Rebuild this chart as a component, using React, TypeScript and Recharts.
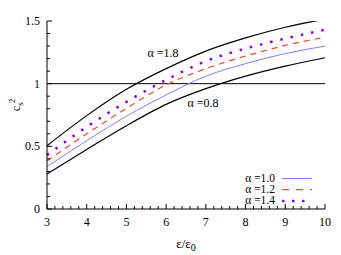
import React from 'react';
import { LineChart, Line, XAxis, YAxis, ReferenceLine, ReferenceDot, Legend } from 'recharts';

const eps = [3, 4, 5, 6, 7, 8, 9, 10];
const a08 = [0.28, 0.475, 0.665, 0.835, 0.96, 1.06, 1.14, 1.207];
const a10 = [0.338, 0.545, 0.74, 0.91, 1.06, 1.16, 1.24, 1.30];
const a12 = [0.383, 0.6, 0.803, 0.99, 1.12, 1.22, 1.305, 1.37];
const a14 = [0.43, 0.655, 0.855, 1.03, 1.18, 1.28, 1.36, 1.43];
const a18 = [0.505, 0.745, 0.955, 1.12, 1.26, 1.365, 1.45, 1.515];

const xMajor = [3, 4, 5, 6, 7, 8, 9, 10];
const yMajor = [0, 0.5, 1, 1.5];
const xTicks = Array.from({ length: 36 }, (_, i) => +(3 + i * 0.2).toFixed(1));
const yTicks = Array.from({ length: 16 }, (_, i) => +(i * 0.1).toFixed(1));

const data = eps.map((e, i) => ({ e, a08: a08[i], a10: a10[i], a12: a12[i], a14: a14[i], a18: a18[i] }));

const FONT = "'Liberation Serif', 'Times New Roman', 'DejaVu Serif', serif";
const BLUE = '#8080ff';
const RED = '#f0442e';
const PURPLE = '#9400d3';

const tstyle = (size: number) => ({ fontFamily: FONT, fontSize: size });

const isMajor = (v: number, list: number[]) => list.some((m) => Math.abs(m - v) < 1e-6);

const BottomTick = (p: any) => {
  const v = p.payload.value;
  const maj = isMajor(v, xMajor);
  return (
    <g>
      <line x1={p.x} x2={p.x} y1={p.y} y2={p.y - (maj ? 5 : 3)} stroke="#000" strokeWidth={1} />
      {maj && (
        <text x={p.x} y={p.y + 17} textAnchor="middle" style={tstyle(12)} fill="#000">
          {v}
        </text>
      )}
    </g>
  );
};
const TopTick = (p: any) => {
  const v = p.payload.value;
  const maj = isMajor(v, xMajor);
  return <line x1={p.x} x2={p.x} y1={p.y} y2={p.y + (maj ? 5 : 3)} stroke="#000" strokeWidth={1} />;
};
const LeftTick = (p: any) => {
  const v = p.payload.value;
  const maj = isMajor(v, yMajor);
  return (
    <g>
      <line x1={p.x} x2={p.x + (maj ? 5 : 3)} y1={p.y} y2={p.y} stroke="#000" strokeWidth={1} />
      {maj && (
        <text x={p.x - 7} y={p.y + 4} textAnchor="end" style={tstyle(12)} fill="#000">
          {v}
        </text>
      )}
    </g>
  );
};
const RightTick = (p: any) => {
  const v = p.payload.value;
  const maj = isMajor(v, yMajor);
  return <line x1={p.x} x2={p.x - (maj ? 5 : 3)} y1={p.y} y2={p.y} stroke="#000" strokeWidth={1} />;
};

const legendItems = [
  { label: 'α =1.0', color: BLUE, dash: undefined as string | undefined, w: 1 },
  { label: 'α =1.2', color: RED, dash: '7 7', w: 1.2 },
  { label: 'α =1.4', color: PURPLE, dash: '2.5 7.5', w: 2.5 },
];

const LegendContent = () => (
  <svg width={90} height={36} style={{ display: 'block' }}>
    {legendItems.map((it, i) => (
      <g key={it.label}>
        <text x={42} y={6.5 + i * 11.2 + 3.5} textAnchor="end" style={tstyle(11.5)} fill="#000">
          {it.label}
        </text>
        <line x1={49} x2={79} y1={6.5 + i * 11.2} y2={6.5 + i * 11.2} stroke={it.color} strokeWidth={it.w} strokeDasharray={it.dash} />
      </g>
    ))}
  </svg>
);

const YLabel = () => (
  <text transform="translate(12,97) rotate(-90)" textAnchor="middle" style={tstyle(12)} fill="#000">
    c<tspan dy={3} style={tstyle(9)}>s</tspan>
    <tspan dy={-8} dx={-1} style={tstyle(9)}>2</tspan>
  </text>
);

const XLabel = (p: any) => {
  const vb = p.viewBox || {};
  const cx = (vb.x ?? 39) + (vb.width ?? 278) / 2;
  return (
    <text x={cx} y={240} textAnchor="middle" style={tstyle(13)} fill="#000">
      ε/ε<tspan dy={3} style={tstyle(10)}>0</tspan>
    </text>
  );
};

export default function App() {
  return (
    <LineChart width={333} height={247} data={data} margin={{ top: 13, right: 16, bottom: 0, left: 0 }}>
      <XAxis
        dataKey="e"
        type="number"
        domain={[3, 10]}
        ticks={xTicks}
        interval={0}
        tickSize={0}
        tickMargin={0}
        tick={BottomTick}
        height={46}
        axisLine={{ stroke: '#000', strokeWidth: 1 }}
        label={{ content: XLabel }}
      />
      <XAxis
        xAxisId="top"
        orientation="top"
        dataKey="e"
        type="number"
        domain={[3, 10]}
        ticks={xTicks}
        interval={0}
        tickSize={0}
        tickMargin={0}
        tick={TopTick}
        height={0}
        axisLine={{ stroke: '#000', strokeWidth: 1 }}
      />
      <YAxis
        type="number"
        domain={[0, 1.5]}
        ticks={yTicks}
        interval={0}
        allowDataOverflow
        tickSize={0}
        tickMargin={0}
        tick={LeftTick}
        width={39}
        axisLine={{ stroke: '#000', strokeWidth: 1 }}
        label={{ content: YLabel }}
      />
      <YAxis
        yAxisId="right"
        orientation="right"
        type="number"
        domain={[0, 1.5]}
        ticks={yTicks}
        interval={0}
        allowDataOverflow
        tickSize={0}
        tickMargin={0}
        tick={RightTick}
        width={0}
        axisLine={{ stroke: '#000', strokeWidth: 1 }}
      />
      <ReferenceLine y={1} stroke="#000" strokeWidth={1} ifOverflow="hidden" />
      <Line dataKey="a08" type="monotone" stroke="#000" strokeWidth={1.2} dot={false} isAnimationActive={false} legendType="none" />
      <Line dataKey="a18" type="monotone" stroke="#000" strokeWidth={1.2} dot={false} isAnimationActive={false} legendType="none" />
      <Line dataKey="a10" type="monotone" stroke={BLUE} strokeWidth={1} dot={false} isAnimationActive={false} />
      <Line dataKey="a12" type="monotone" stroke={RED} strokeWidth={1.2} strokeDasharray="6 5" dot={false} isAnimationActive={false} />
      <Line dataKey="a14" type="monotone" stroke={PURPLE} strokeWidth={2.5} strokeDasharray="2.5 8" dot={false} isAnimationActive={false} />
      <ReferenceDot
        x={5.92}
        y={1.245}
        r={0}
        fill="none"
        stroke="none"
        label={{ value: 'α =1.8', position: 'center', style: tstyle(12), fill: '#000' }}
      />
      <ReferenceDot
        x={6.93}
        y={0.846}
        r={0}
        fill="none"
        stroke="none"
        label={{ value: 'α =0.8', position: 'center', style: tstyle(12), fill: '#000' }}
      />
      <Legend
        layout="vertical"
        align="center"
        verticalAlign="middle"
        content={LegendContent}
        wrapperStyle={{ position: 'absolute', left: 225, top: 164, width: 90, height: 36 }}
      />
    </LineChart>
  );
}
